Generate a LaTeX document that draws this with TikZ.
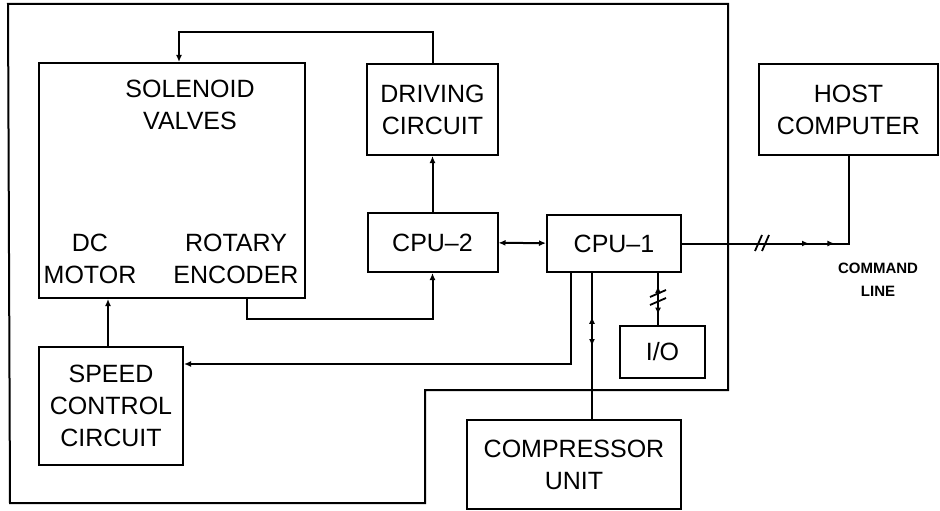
\documentclass[tikz,border=0pt]{standalone}
\usepackage{fontspec}
\setmainfont{Liberation Sans}
\usetikzlibrary{positioning,arrows.meta,decorations.markings}
\tikzset{
  hd/.tip={Latex[length=7pt,width=6pt]},
  blk/.style={draw, line width=2pt, inner sep=0pt, align=center,
              font=\fontsize{25}{32}\selectfont},
  txt/.style={align=center, inner sep=0pt, font=\fontsize{25}{32}\selectfont},
  small/.style={align=center, inner sep=0pt, font=\fontsize{15}{23}\selectfont\bfseries},
  wire/.style={line width=2pt},
  flow/.style={wire, -hd},
  both/.style={wire, hd-hd},
  % small arrow marks sitting on a line
  tips/.style={postaction={decorate}, decoration={markings, #1}},
  brk/.style={line width=1.8pt},
}

\begin{document}
\begin{tikzpicture}[x=1pt, y=-1pt]
\useasboundingbox (0,0) rectangle (940,511);

%% ── the enclosure ─────────────────────────────────────────────────────────
\draw[wire] (8,4) -- (728,4) -- (728,390) -- (425,390) -- (425,503)
  -- (10,503) -- cycle;

%% ── blocks ────────────────────────────────────────────────────────────────
\node[blk, minimum width=266pt, minimum height=235pt] (sol) at (172,180.5) {};
\node[txt] (solname) at (190,105) {SOLENOID\\VALVES};
\node[txt] (motor) at (90,259) {DC\\MOTOR};
\node[txt] (enc) at (236,259) {ROTARY\\ENCODER};

\node[blk, minimum width=131pt, minimum height=91pt] (drive) at (432.5,109.5)
  {DRIVING\\CIRCUIT};
\node[blk, minimum width=130pt, minimum height=59pt] (cpu2) at (432.5,242.5)
  {CPU--2};
\node[blk, minimum width=134pt, minimum height=57pt] (cpu1) at (614,243.5)
  {CPU--1};
\node[blk, minimum width=179pt, minimum height=91pt] (host) at (848.5,109.5)
  {HOST\\COMPUTER};
\node[blk, minimum width=85pt, minimum height=52pt] (io) at (662.5,352)
  {I/O};
\node[blk, minimum width=144pt, minimum height=118pt] (speed) at (111,406)
  {SPEED\\CONTROL\\CIRCUIT};
\node[blk, minimum width=214pt, minimum height=89pt] (comp) at (574,464.5)
  {COMPRESSOR\\UNIT};

\node[small] (cmd) at (878,280) {COMMAND\\LINE};

%% ── flow ──────────────────────────────────────────────────────────────────
\draw[flow] (drive.north) -- ++(0,-31) -| ([xshift=7pt]sol.north);
\draw[flow] (cpu2) -- (drive);
\draw[both] (cpu2) -- (cpu1);
\draw[flow] ([xshift=75pt]sol.south) -- ++(0,20) -| (cpu2.south);
\draw[flow] ([xshift=-3pt]speed.north) -- ([xshift=-3pt]speed.north |- sol.south);
\draw[flow] ([xshift=-43pt]cpu1.south) |- ([yshift=42pt]speed.east);
\draw[wire, tips={mark=at position 0.3 with {\arrowreversed{hd}},
                  mark=at position 0.5 with {\arrow{hd}}}]
  ([xshift=-22pt]cpu1.south) -- ([xshift=-22pt]cpu1.south |- comp.north);
\draw[wire, tips={mark=at position 0.25 with {\arrowreversed{hd}},
                  mark=at position 0.8 with {\arrow{hd}}}]
  ([xshift=44pt]cpu1.south) -- ([xshift=44pt]cpu1.south |- io.north);
\draw[wire, tips={mark=at position 0.5 with {\arrow{hd}},
                  mark=at position 0.6 with {\arrow{hd}}}]
  (cpu1.east) -| (host.south);

%% ── line breaks ───────────────────────────────────────────────────────────
\draw[brk] (755,251) -- (762,235) (762,251) -- (769,235);
\draw[brk] (650,297) -- (666,290) (650,305) -- (666,298);

\end{tikzpicture}
\end{document}
